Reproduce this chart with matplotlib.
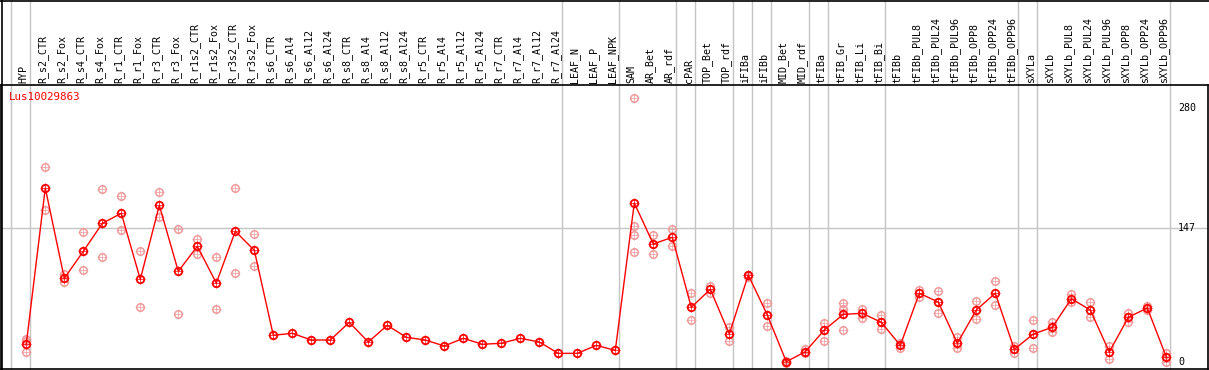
import matplotlib
matplotlib.use("Agg")
import matplotlib.pyplot as plt
from matplotlib.lines import Line2D

# ---------------- data ----------------
gene = "Lus10029863"

samples = [
    "HYP",
    "R_s2_CTR", "R_s2_Fox", "R_s4_CTR", "R_s4_Fox", "R_r1_CTR", "R_r1_Fox",
    "R_r3_CTR", "R_r3_Fox", "R_r1s2_CTR", "R_r1s2_Fox", "R_r3s2_CTR", "R_r3s2_Fox",
    "R_s6_CTR", "R_s6_Al4", "R_s6_Al12", "R_s6_Al24",
    "R_s8_CTR", "R_s8_Al4", "R_s8_Al12", "R_s8_Al24",
    "R_r5_CTR", "R_r5_Al4", "R_r5_Al12", "R_r5_Al24",
    "R_r7_CTR", "R_r7_Al4", "R_r7_Al12", "R_r7_Al24",
    "LEAF_N", "LEAF_P", "LEAF_NPK",
    "SAM", "AR_Bet", "AR_rdf", "cPAR", "TOP_Bet", "TOP_rdf",
    "iFIBa", "iFIBb", "MID_Bet", "MID_rdf",
    "tFIBa", "tFIB_Gr", "tFIB_Li", "tFIB_Bi",
    "tFIBb", "tFIBb_PUL8", "tFIBb_PUL24", "tFIBb_PUL96",
    "tFIBb_OPP8", "tFIBb_OPP24", "tFIBb_OPP96",
    "sXYLa", "sXYLb", "sXYLb_PUL8", "sXYLb_PUL24", "sXYLb_PUL96",
    "sXYLb_OPP8", "sXYLb_OPP24", "sXYLb_OPP96",
]

means = [
    19.5,
    191.4, 91.9, 121.6, 152.5, 163.5, 90.8,
    172.3, 99.6, 127.2, 86.7, 143.7, 122.8,
    29.1, 31.3, 23.9, 23.9,
    43.4, 21.7, 40.1, 26.9,
    23.9, 17.3, 25.8, 19.2,
    20.3, 25.8, 21.7, 9.2,
    9.2, 18.0, 12.5,
    174.9, 129.7, 137.1, 59.9, 79.8, 30.5,
    95.5, 51.5, 0.0, 11.0,
    34.9, 52.2, 53.3, 43.4,
    18.0, 75.4, 65.8, 20.3,
    57.0, 75.4, 13.6,
    30.5, 37.9, 69.4, 57.0, 10.7,
    48.9, 59.2, 5.2,
]

replicates = [
    [22.8, 10.3, 25.4],
    [214.2, 166.8], [96.3, 88.2], [142.6, 100.7], [190.0, 115.0], [182.2, 144.8], [121.6, 59.9],
    [186.6, 159.1], [145.9, 52.2], [135.2, 118.7], [115.0, 58.1], [191.1, 97.4], [140.7, 105.1],
    [], [], [], [],
    [], [], [], [],
    [], [], [], [],
    [], [], [], [],
    [], [], [],
    [290.2, 149.5, 139.2, 121.2], [139.6, 118.7], [146.2, 127.5], [75.4, 45.9], [83.4, 76.0], [38.2, 22.4],
    [96.0, 93.0], [64.3, 39.0], [1.1, -1.5], [13.6, 9.2],
    [42.3, 22.4], [64.3, 58.4, 34.9], [57.7, 48.2], [51.1, 36.4],
    [20.3, 15.5], [79.0, 71.6], [77.6, 53.3], [26.9, 14.7],
    [66.9, 46.7], [88.6, 62.1], [17.3, 9.9],
    [45.9, 15.1], [43.4, 32.7], [74.6, 66.1], [65.8, 48.9], [17.3, 2.6],
    [53.3, 43.7], [61.0, 57.0], [9.2, 0.0],
]

# index of the last sample in each group (a separator line follows it)
group_ends = [-1, 0, 28, 31, 34, 35, 37, 38, 39, 41, 42, 45, 52, 53, 60]

y_ticks = [0, 147, 280]

# ---------------- figure ----------------
W, H = 1209, 370
fig = plt.figure(figsize=(W / 100, H / 100), dpi=100)
ax_left, ax_right, ax_top, ax_bot = 1, 1208, 85, 369
ax = fig.add_axes([ax_left / W, 1 - ax_bot / H,
                   (ax_right - ax_left) / W, (ax_bot - ax_top) / H])

x0_px, dx_px = 26.3, 19.0
ax.set_xlim((ax_left - x0_px) / dx_px, (ax_right - x0_px) / dx_px)
y0_px, sy = 361.7, 0.9075
ax.set_ylim((y0_px - ax_bot) / sy, (y0_px - ax_top) / sy)

ax.set_xticks([])
ax.set_yticks([])
for s in ax.spines.values():
    s.set_color("black")
    s.set_linewidth(1.2)

grid_c = "#c4c4c4"
red = "#ff0000"
pink = "#f09a9a"
font = "DejaVu Sans Mono"
fs = 7.2

# horizontal grid line at the middle tick
ax.axhline(y_ticks[1], color=grid_c, lw=1, zorder=0.5)

# vertical separators (extend through header)
ext = (ax_bot) / (ax_bot - ax_top)
for g in group_ends:
    ax.axvline(g + 0.2, ymin=0, ymax=ext, color=grid_c, lw=1,
               clip_on=False, zorder=0.5)

xs = list(range(len(samples)))

# replicate points
rx, ry = [], []
for i, reps in enumerate(replicates):
    for v in reps:
        rx.append(i)
        ry.append(v)
ax.plot(rx, ry, linestyle="none", marker="o", markersize=5.4,
        markerfacecolor="none", markeredgecolor=pink, markeredgewidth=1.1, zorder=2)
ax.plot(rx, ry, linestyle="none", marker="+", markersize=6.6,
        markeredgecolor=pink, markeredgewidth=0.5, zorder=1.9)

# mean line + markers
ax.plot(xs, means, color=red, lw=1.0, zorder=3)
ax.plot(xs, means, linestyle="none", marker="o", markersize=5.4,
        markerfacecolor="none", markeredgecolor=red, markeredgewidth=1.3, zorder=4)
ax.plot(xs, means, linestyle="none", marker="+", markersize=6.6,
        markeredgecolor=red, markeredgewidth=0.5, zorder=3.9)

# y tick labels inside on the right
xlab = (1178 - x0_px) / dx_px
for t in y_ticks:
    ax.text(xlab, t, str(t), fontsize=fs, family=font, ha="left",
            va="center", color="black")

# gene name
ax.text((9 - ax_left) / (ax_right - ax_left), (ax_bot - 97) / (ax_bot - ax_top),
        gene, transform=ax.transAxes, fontsize=fs + 0.6, family=font,
        color=red, ha="left", va="center")

# sample labels in the header
ylab = (ax_bot - 83) / (ax_bot - ax_top)
for i, name in enumerate(samples):
    ax.text(i - 0.14, ylab, name, rotation=90, fontsize=fs, family=font,
            ha="center", va="bottom", transform=ax.get_xaxis_transform(),
            clip_on=False)

# outer header frame
fig.add_artist(Line2D([0, 1], [1 - 0.6 / H] * 2, color="black", lw=1.2))
fig.add_artist(Line2D([1.5 / W] * 2, [0, 1], color="black", lw=1.2))

fig.savefig("out.png", dpi=100)
